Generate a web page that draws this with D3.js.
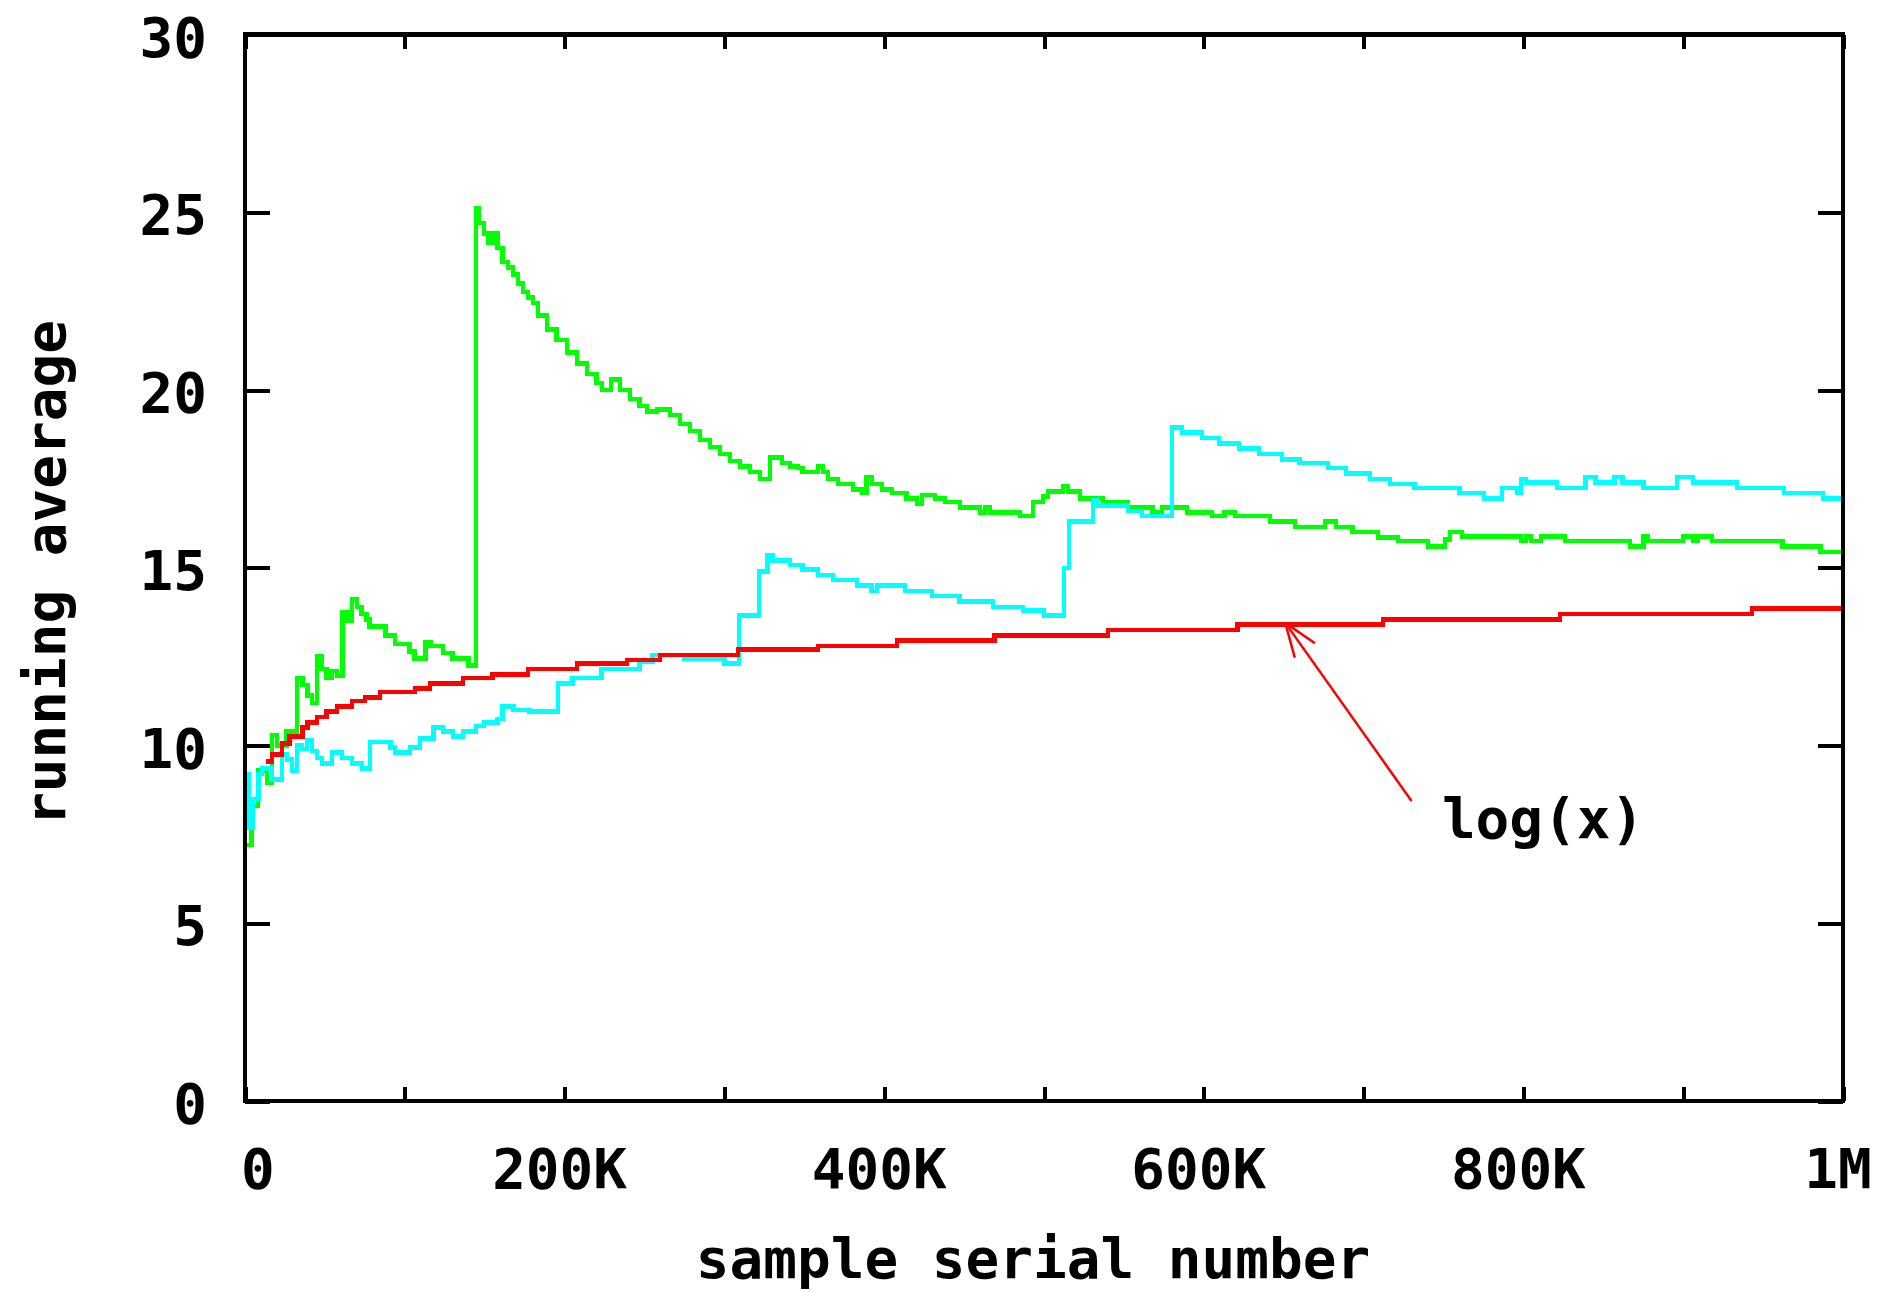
<!DOCTYPE html>
<meta charset="utf-8">
<style>
body { margin: 0; background: #fff; }
svg { display: block; }
.tick line { stroke: #000; stroke-width: 4; shape-rendering: crispEdges; }
.lbl { font-family: "DejaVu Sans Mono", monospace; font-weight: bold; font-size: 56px; fill: #000; }
.run { fill: none; stroke-width: 4.5; shape-rendering: crispEdges; }
</style>
<svg width="1879" height="1292"></svg>
<script src="https://cdn.jsdelivr.net/npm/d3@7"></script>
<script>

// x values are in thousands of samples (K)
var greenRun = [
[0,7.2],[4,8.3],[8,9.3],[13.8,8.95],[17,10.3],[20,10.0],[26,10.4],[32.5,11.9],[36,11.7],[39,11.4],[42,11.2],[45,12.5],[48,12.15],[51,11.9],[54,12.1],[57.6,11.95],[61,13.75],[64,13.5],[67,14.1],[70,13.9],[73,13.7],[76,13.55],[78,13.35],[88,13.1],[94,12.85],[103,12.65],[106,12.45],[113,12.9],[116,12.8],[124,12.6],[130,12.45],[140,12.25],
[144.6,25.1],[146.4,24.7],[149.5,24.4],[152,24.15],[155,24.4],[158,24.0],[161,23.6],[164.6,23.45],[167.7,23.25],[170.8,23.0],[174,22.75],[177,22.6],[180.2,22.45],[183.4,22.1],[189,21.7],[195,21.4],[201.5,21.05],[207.8,20.75],[214,20.45],[220,20.2],[223.4,20.0],[229,20.3],[234.7,20.0],[241,19.75],[247,19.55],[251.6,19.4],[257.8,19.45],[266,19.3],[272.2,19.05],[278.5,18.85],[284.7,18.6],[291,18.4],[297.2,18.2],[303.5,18.0],[309.8,17.85],[316,17.7],[322.3,17.5],[328.5,18.1],[336,17.95],[341,17.85],[346,17.8],[349,17.7],[358.6,17.85],[361.7,17.7],[364.8,17.5],[371,17.35],[380.5,17.2],[386,17.1],[389,17.55],[392.4,17.35],[398.6,17.2],[405,17.1],[414,16.95],[420.5,16.8],[423.7,17.05],[431.8,16.95],[438,16.85],[447.4,16.7],[460,16.55],[463,16.7],[466.2,16.55],[485,16.45],[493,16.85],[499.4,17.0],[502.5,17.15],[511.9,17.3],[515,17.15],[522.5,16.95],[537,16.85],[552.6,16.7],[568,16.55],[573.8,16.7],[589.5,16.55],[605,16.45],[613,16.55],[619.5,16.45],[641.4,16.3],[657,16.15],[676,16.3],[682.7,16.15],[693,16.0],[709,15.85],[721.5,15.75],[740.3,15.6],[751,15.8],[754,16.0],[761.6,15.88],[798.5,15.75],[801.6,15.88],[804.8,15.75],[811,15.88],[826,15.75],[866.7,15.6],[875,15.88],[878,15.75],[900,15.88],[906,15.75],[909,15.88],[918,15.75],[962,15.6],[986,15.45],[1000,15.45]
];

var cyanRun = [
[0,9.2],[2.5,7.7],[5,8.5],[8.5,9.2],[10.6,9.35],[17,9.05],[23.2,9.75],[26.3,9.6],[29.4,9.3],[32.5,10.0],[35.7,9.9],[38.8,10.15],[41.9,9.85],[45.1,9.65],[48.2,9.5],[54.4,9.8],[60.7,9.65],[67,9.5],[73.2,9.35],[78.2,10.1],[91,9.95],[94,9.8],[103.3,9.95],[109.5,10.2],[118,10.5],[124,10.4],[130.2,10.25],[136.4,10.4],[144.6,10.55],[149.5,10.65],[158,10.75],[161,11.1],[168,11.0],[178,10.95],[196,11.75],[205,11.9],[223,12.15],[247,12.35],[255,12.55],[275,12.45],[300,12.3],[309,13.65],[321.6,14.9],[327,15.35],[330,15.2],[341,15.08],[349,14.95],[358.6,14.8],[368,14.65],[383,14.5],[392,14.35],[395.5,14.5],[413,14.35],[430,14.2],[447,14.05],[468,13.9],[487,13.8],[500,13.65],[512.5,15.0],[515.6,16.3],[530.7,16.9],[533.8,16.75],[552.6,16.6],[561.3,16.45],[580,18.95],[586.4,18.8],[599,18.65],[609.5,18.5],[622,18.35],[634.5,18.2],[649,18.05],[660,17.95],[677.7,17.8],[689,17.65],[704,17.5],[716.5,17.35],[732,17.25],[760,17.1],[775.3,16.95],[786.6,17.25],[796,17.1],[798.5,17.5],[801.6,17.4],[821,17.25],[839,17.55],[845,17.4],[857,17.55],[862,17.4],[875,17.25],[896,17.55],[906,17.4],[933.7,17.25],[963,17.1],[987.5,16.95],[1000,16.95]
];

var logRun = [
[13,9.55],[17,9.75],[23,10.05],[28,10.25],[36,10.5],[39,10.65],[45,10.8],[51,10.95],[57.6,11.1],[67,11.25],[75,11.35],[84.5,11.5],[106.4,11.6],[115.8,11.75],[136.4,11.9],[155,12.0],[177,12.15],[207.8,12.3],[239,12.4],[259.7,12.55],[308.5,12.7],[358.6,12.8],[408,12.95],[469,13.1],[540,13.25],[621,13.4],[712,13.55],[823,13.7],[943,13.85],[1000,13.85]
];

var xMinorTicks = [0,100,200,300,400,500,600,700,800,900,1000];
var xLabelTicks = [0,200,400,600,800,1000];
var xTickLabels = ["0","200K","400K","600K","800K","1M"];
var yTicks = [0,5,10,15,20,25,30];

var arrowFrom = [730, 8.44], arrowTo = [651, 13.45];
var logLabelAt = [749, 7.4];

var svg = d3.select("svg"),
    margin = {top: 34.5, right: 36, bottom: 191, left: 245},
    width = +svg.attr("width") - margin.left - margin.right,
    height = +svg.attr("height") - margin.top - margin.bottom;

var x = d3.scaleLinear().domain([0, 1000]).range([0, width]),
    y = d3.scaleLinear().domain([0, 30]).range([height, 0]);

var g = svg.append("g")
    .attr("transform", "translate(" + margin.left + "," + margin.top + ")");

// ticks pointing inward on all four sides
g.append("g").attr("transform", "translate(0," + height + ")")
  .call(d3.axisBottom(x).tickValues(xMinorTicks).tickSize(-14).tickFormat(""));
g.append("g")
  .call(d3.axisTop(x).tickValues(xMinorTicks).tickSize(-14).tickFormat(""));
g.append("g")
  .call(d3.axisLeft(y).tickValues(yTicks).tickSize(-25).tickFormat(""));
g.append("g").attr("transform", "translate(" + width + ",0)")
  .call(d3.axisRight(y).tickValues(yTicks).tickSize(-25).tickFormat(""));
g.selectAll(".domain").remove();

// tick labels
g.selectAll(".xl").data(xLabelTicks).enter().append("text")
  .attr("class", "lbl")
  .attr("x", function(d, i){ return i == 0 ? x(d) - 4 : x(d) - 5; })
  .attr("y", height + 87)
  .attr("text-anchor", function(d, i){ return i == 0 ? "start" : "middle"; })
  .text(function(d, i){ return xTickLabels[i]; });

g.selectAll(".yl").data(yTicks).enter().append("text")
  .attr("class", "lbl")
  .attr("x", -38)
  .attr("y", function(d){ return y(d) + 2; })
  .attr("dy", "0.36em")
  .attr("text-anchor", "end")
  .text(function(d){ return d; });

// the running averages
var line = d3.line()
  .x(function(d){ return x(d[0]); })
  .y(function(d){ return y(d[1]); })
  .curve(d3.curveStepAfter);

g.append("path").datum(greenRun).attr("class", "run").attr("stroke", "#00ff00").attr("d", line);
g.append("path").datum(cyanRun).attr("class", "run").attr("stroke", "#00ffff").attr("d", line);
g.append("path").datum(logRun).attr("class", "run").attr("stroke", "#ff0000").attr("d", line);

// arrow pointing at the log curve
var ax0 = x(arrowFrom[0]), ay0 = y(arrowFrom[1]),
    ax1 = x(arrowTo[0]), ay1 = y(arrowTo[1]);
var ang = Math.atan2(ay0 - ay1, ax0 - ax1), hl = 36, spread = 20 * Math.PI / 180;
var arrow = g.append("g").attr("stroke", "#ff0000").attr("stroke-width", 2.5).attr("fill", "none");
arrow.append("line").attr("x1", ax0).attr("y1", ay0).attr("x2", ax1).attr("y2", ay1);
[-1, 1].forEach(function(s){
  arrow.append("line").attr("x1", ax1).attr("y1", ay1)
    .attr("x2", ax1 + hl * Math.cos(ang + s * spread))
    .attr("y2", ay1 + hl * Math.sin(ang + s * spread));
});

g.append("text").attr("class", "lbl")
  .attr("x", x(logLabelAt[0])).attr("y", y(logLabelAt[1]))
  .text("log(x)");

// frame
g.append("rect").attr("width", width).attr("height", height)
  .attr("fill", "none").attr("stroke", "#000").attr("stroke-width", 4.5)
  .attr("shape-rendering", "crispEdges");

// axis titles
svg.append("text").attr("class", "lbl")
  .attr("x", 1033).attr("y", 1278)
  .attr("text-anchor", "middle")
  .text("sample serial number");

svg.append("text").attr("class", "lbl")
  .attr("transform", "translate(65,573) rotate(-90)")
  .attr("text-anchor", "middle")
  .text("running average");

</script>
